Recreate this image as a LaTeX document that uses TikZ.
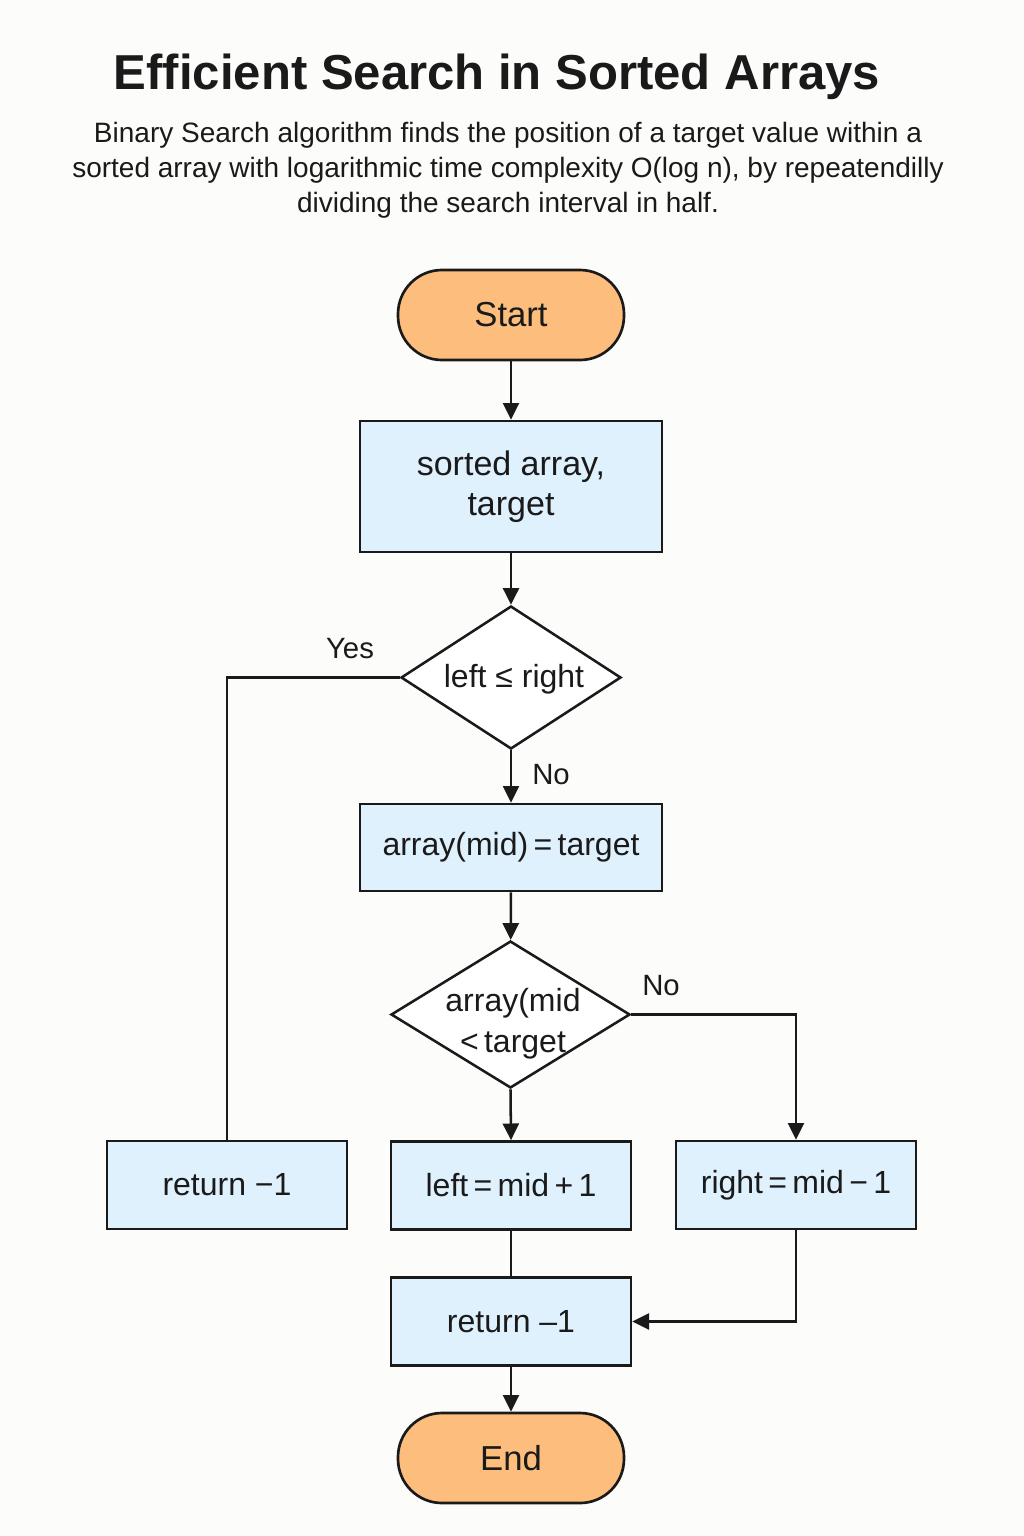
\documentclass[tikz,border=0pt]{standalone}
\usepackage{fontspec}
\setmainfont{Liberation Sans}
\usetikzlibrary{arrows.meta,shapes.geometric}
\definecolor{bg}{HTML}{FCFCFA}
\definecolor{orangefill}{HTML}{FDBE7D}
\definecolor{bluefill}{HTML}{DFF1FD}
\definecolor{ink}{HTML}{1A1A1A}
\begin{document}
\begin{tikzpicture}[x=0.75pt,y=-0.75pt,
  every node/.style={text=ink},
  boxfont/.style={font=\fontsize{24}{30}\selectfont},
  term/.style={font=\fontsize{26}{30}\selectfont, draw=ink, line width=2pt, fill=orangefill, rounded corners=33pt, minimum width=169.5pt, minimum height=67.5pt},
  proc/.style={boxfont, draw=ink, line width=2pt, fill=bluefill, align=center, inner sep=0pt},
  smallbox/.style={proc, minimum width=180pt, minimum height=66pt},
  dia/.style={diamond, draw=ink, line width=1.9pt, fill=white, inner sep=0pt},
  conn/.style={draw=ink, line width=1.9pt},
  arr/.style={conn, -{Triangle[length=12.5pt,width=12pt]}},
  lbl/.style={font=\fontsize{22}{26}\selectfont}
]
\fill[bg] (0,0) rectangle (1024,1536);
\useasboundingbox (0,0) rectangle (1024,1536);

% title and subtitle
\node[font=\fontsize{36.8}{40}\selectfont\bfseries] (title) at (497,77) {Efficient Search in Sorted Arrays};
\node[font=\fontsize{21}{26.25}\selectfont, align=center] (sub) at (508,170) {Binary Search algorithm finds the position of a target value within a\\sorted array with logarithmic time complexity O(log n), by repeatendilly\\dividing the search interval in half.};

% nodes
\node[term] (start) at (511,315) {Start};
\node[proc, minimum width=226.5pt, minimum height=98.25pt, font=\fontsize{25.5}{30}\selectfont] (in) at (511,486.5) {sorted array,\\target};
\node[dia, minimum width=165pt, minimum height=107.25pt] (d1) at (511,677.5) {};
\node[boxfont] (d1t) at (514,679) {left ≤ right};
\node[proc, minimum width=226.5pt, minimum height=65.25pt] (chk) at (511,847.5) {array(mid)\,=\,target};
\node[dia, minimum width=179.25pt, minimum height=110.25pt] (d2) at (510.5,1014.5) {};
\node[align=center, font=\fontsize{24}{30.75}\selectfont] (d2t) at (513,1024) {array(mid\\<\,target};
\node[smallbox] (ret1) at (227,1185) {return −1};
\node[smallbox] (lft) at (511,1185.5) {left\,=\,mid\,+\,1};
\node[smallbox] (rgt) at (796,1185) {right\,=\,mid\,−\,1};
\node[smallbox] (ret2) at (511,1321.5) {return –1};
\node[term] (end) at (511,1458) {End};

% labels
\node[lbl] (yes) at (350,649) {Yes};
\node[lbl] (no1) at (551,775) {No};
\node[lbl] (no2) at (661,986) {No};

% connectors
\draw[arr] (start) -- (in);
\draw[arr] (in.south) -- (d1.north);
\draw[conn] (d1.west) -| (ret1.north);
\draw[arr] (d1.south) -- (chk.north);
\draw[arr] (chk) -- (d2);
\draw[arr] (d2.east) -| (rgt.north);
\draw[arr] (d2.south) -- (lft.north);
\draw[conn] (lft) -- (ret2);
\draw[arr] (rgt.south) |- (ret2.east);
\draw[arr] (ret2) -- (end);
\end{tikzpicture}
\end{document}
